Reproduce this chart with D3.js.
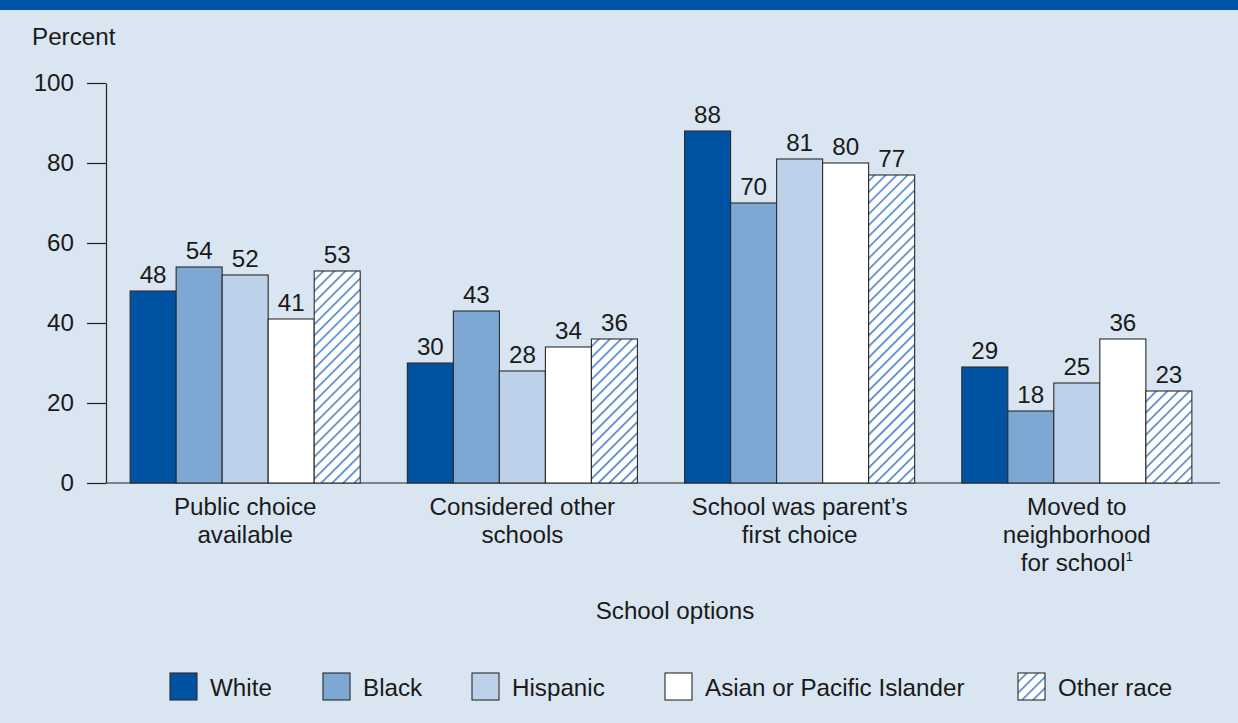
<!DOCTYPE html>
<html>
<head>
<meta charset="utf-8">
<script src="https://cdn.jsdelivr.net/npm/d3@7"></script>
<style>
  html, body { margin: 0; padding: 0; background: #d9e5f1; }
  svg { display: block; font-family: "Liberation Sans", Arial, sans-serif; }
</style>
</head>
<body>
<svg id="chart" width="1238" height="723"></svg>
<script>
// ---- data ----
const categories = ["Public choice available", "Considered other schools", "School was parent\u2019s first choice", "Moved to neighborhood for school"];
const categoryLines = [["Public choice", "available"], ["Considered other", "schools"], ["School was parent\u2019s", "first choice"], ["Moved to", "neighborhood", "for school"]];
const series = ["White", "Black", "Hispanic", "Asian or Pacific Islander", "Other race"];
const white    = [48, 30, 88, 29];
const black    = [54, 43, 70, 18];
const hispanic = [52, 28, 81, 25];
const asian    = [41, 34, 80, 36];
const other    = [53, 36, 77, 23];
const yTicks   = [0, 20, 40, 60, 80, 100];
const yLabel = "Percent";
const xLabel = "School options";

const values = [white, black, hispanic, asian, other];
const fills = ["#0053a3", "#7da8d3", "#bdd2ea", "#ffffff", "url(#hatch)"];
const legendX = [170, 323, 472, 665, 1018];
const FS = 24.2;

const svg = d3.select("#chart");
const W = 1238, H = 723;

svg.append("rect").attr("x", 0).attr("y", 0).attr("width", W).attr("height", H).attr("fill", "#d9e5f1");
svg.append("rect").attr("x", 0).attr("y", 0).attr("width", W).attr("height", 10).attr("fill", "#0054a5");

// hatch pattern
const defs = svg.append("defs");
const pat = defs.append("pattern").attr("id", "hatch").attr("patternUnits", "userSpaceOnUse")
  .attr("width", 7.8).attr("height", 7.8).attr("patternTransform", "rotate(45)");
pat.append("rect").attr("width", 7.8).attr("height", 7.8).attr("fill", "#ffffff");
pat.append("line").attr("x1", 0.8).attr("y1", 0).attr("x2", 0.8).attr("y2", 7.8)
  .attr("stroke", "#2c6fc0").attr("stroke-width", 1.4);

const x = d3.scaleBand().domain(categories).range([106, 1216]).paddingInner(0.17).paddingOuter(0.087);
const xs = d3.scaleBand().domain(series).range([0, x.bandwidth()]);
const y = d3.scaleLinear().domain([0, 100]).range([483, 83]);

// y axis
const yAxis = d3.axisLeft(y).tickValues(yTicks).tickSize(19).tickPadding(13).tickSizeOuter(0);
const gy = svg.append("g").attr("transform", "translate(106,0)").call(yAxis);
gy.select(".domain").attr("stroke", "#222").attr("stroke-width", 1.2);
gy.selectAll(".tick line").attr("stroke", "#222").attr("stroke-width", 1.2);
gy.selectAll(".tick text").attr("font-size", FS).attr("fill", "#1a1a1a")
  .attr("font-family", "Liberation Sans, Arial, sans-serif");

// baseline
svg.append("line").attr("x1", 106).attr("x2", 1220).attr("y1", y(0)).attr("y2", y(0))
  .attr("stroke", "#222").attr("stroke-width", 1.2);

svg.append("text").attr("x", 32).attr("y", 45).attr("font-size", FS).attr("fill", "#1a1a1a").text(yLabel);

// bars
const groups = svg.append("g").selectAll("g").data(categories).join("g")
  .attr("transform", d => `translate(${x(d)},0)`);
series.forEach((s, si) => {
  groups.append("rect")
    .attr("x", xs(s)).attr("width", xs.bandwidth())
    .attr("y", (d, ci) => y(values[si][ci]))
    .attr("height", (d, ci) => y(0) - y(values[si][ci]))
    .attr("fill", fills[si]).attr("stroke", "#2a2a2a").attr("stroke-width", 1.1);
  groups.append("text")
    .attr("x", xs(s) + xs.bandwidth() / 2)
    .attr("y", (d, ci) => y(values[si][ci]) - 8)
    .attr("text-anchor", "middle").attr("font-size", FS).attr("fill", "#1a1a1a")
    .text((d, ci) => values[si][ci]);
});

// category labels
categories.forEach((c, ci) => {
  const t = svg.append("text").attr("text-anchor", "middle").attr("font-size", FS).attr("fill", "#1a1a1a");
  categoryLines[ci].forEach((ln, li) => {
    t.append("tspan").attr("x", x(c) + x.bandwidth() / 2).attr("y", 515 + li * 28).text(ln);
  });
  if (ci === 3) {
    t.append("tspan").attr("font-size", 13).attr("dy", -10).text("1");
  }
});

svg.append("text").attr("x", 675).attr("y", 619).attr("text-anchor", "middle")
  .attr("font-size", FS).attr("fill", "#1a1a1a").text(xLabel);

// legend
series.forEach((s, si) => {
  const lx = legendX[si];
  svg.append("rect").attr("x", lx).attr("y", 673).attr("width", 27).attr("height", 27)
    .attr("fill", fills[si]).attr("stroke", "#2a2a2a").attr("stroke-width", 1.1);
  svg.append("text").attr("x", lx + 40).attr("y", 696).attr("font-size", FS)
    .attr("fill", "#1a1a1a").text(s);
});
</script>
</body>
</html>
